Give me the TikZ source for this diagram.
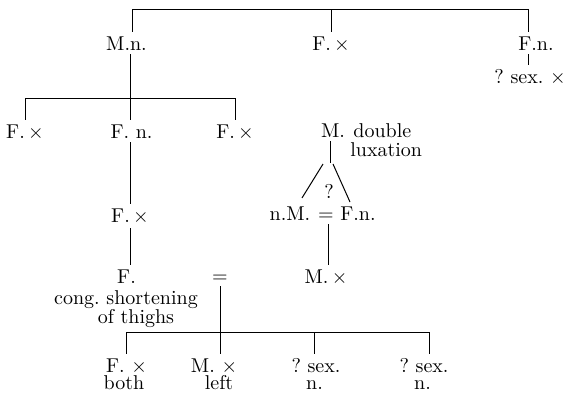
\documentclass[tikz,border=0pt]{standalone}
\begin{document}
\frenchspacing
\begin{tikzpicture}[x=0.5pt,y=-0.5pt,
  lab/.style={inner sep=2pt, anchor=base, font=\fontsize{10}{12}\selectfont\frenchspacing},
  labw/.style={inner sep=2pt, anchor=base west, font=\fontsize{10}{12}\selectfont\frenchspacing},
  ln/.style={line width=0.5pt}]
\useasboundingbox (0,0) rectangle (565,393);
% ---- top generation
\node[lab] (mn)  at (126.5,50) {M.n.};
\node[lab] (fx1) at (331,50) {F.\,$\times$};
\node[lab] (fn1) at (536,50) {F.n.};
\node[lab] (sx1) at (530,83) {? sex. $\times$};
\coordinate (t1) at (132,9);
\coordinate (t2) at (331,9);
\coordinate (t3) at (528,9);
\draw[ln] (t1) -- (t3);
\draw[ln] (t1) -- (t1 |- mn.north);
\draw[ln] (t2) -- (t2 |- fx1.north);
\draw[ln] (t3) -- (t3 |- fn1.north);
\draw[ln] (fn1.south -| t3) -- (sx1.north -| t3);
% ---- second generation
\node[lab] (fx2) at (25,138) {F.\,$\times$};
\node[lab] (fnn) at (131.5,138) {F. n.};
\node[lab] (fx3) at (235,138) {F.\,$\times$};
\coordinate (b1) at (25,98);
\coordinate (b2) at (130,98);
\coordinate (b3) at (235,98);
\draw[ln] (mn.south -| b2) -- (b2);
\draw[ln] (b1) -- (b3);
\draw[ln] (b1) -- (b1 |- fx2.north);
\draw[ln] (b2) -- (b2 |- fnn.north);
\draw[ln] (b3) -- (b3 |- fx3.north);
% ---- middle column
\node[lab] (fxm) at (130,222) {F.\,$\times$};
\node[lab] (ff)  at (126.5,283) {F.};
\node[lab] (cg1) at (126,304) {cong. shortening};
\node[lab] (cg2) at (136,323) {of thighs};
\draw[ln] (fnn.south -| b2) -- (fxm.north -| b2);
\draw[ln] (fxm.south -| b2) -- (ff.north -| b2);
\node[lab] (eq1) at (220,282) {$=$};
% ---- right column
\node[lab] (m2) at (333,137) {M.};
\node[labw] (dbl) at (349,137) {double};
\node[labw] (lux) at (346,156) {luxation};
\coordinate (ap) at (330,163);
\draw[ln] (m2.south -| ap) -- (ap);
\node[lab] (nm)  at (290,220) {n.M.};
\node[lab] (eq2) at (326,220) {$=$};
\node[lab] (fn2) at (358,220) {F.n.};
\node[lab] (qm)  at (329,198) {?};
\draw[ln] ([xshift=-3.5pt,yshift=-0.5pt]ap) -- ([xshift=6pt,yshift=2pt]nm.north);
\draw[ln] ([xshift=1.5pt,yshift=-0.5pt]ap) -- ([xshift=-4pt]fn2.north);
\node[lab] (mx) at (326,283) {M.\,$\times$};
\coordinate (v2) at (328,0);
\draw[ln] (eq2.south -| v2) -- (mx.north -| v2);
% ---- third generation
\node[lab] (bx1) at (126.5,372) {F. $\times$};
\node[lab] (bx2) at (214,372) {M. $\times$};
\node[lab] (bx3) at (316,372) {? sex.};
\node[lab] (bx4) at (424,372) {? sex.};
\node[lab] (bl1) at (124,389) {both};
\node[lab] (bl2) at (219,389) {left};
\node[lab] (bl3) at (314.5,389) {n.};
\node[lab] (bl4) at (422.5,389) {n.};
\coordinate (d1) at (126,332);
\coordinate (d2) at (220,332);
\coordinate (d3) at (314,332);
\coordinate (d4) at (429,332);
\draw[ln] (eq1.south -| d2) -- (d2);
\draw[ln] (d1) -- (d4);
\draw[ln] (d1) -- (d1 |- bx1.north);
\draw[ln] (d2) -- (d2 |- bx2.north);
\draw[ln] (d3) -- (d3 |- bx3.north);
\draw[ln] (d4) -- (d4 |- bx4.north);
\end{tikzpicture}
\end{document}
